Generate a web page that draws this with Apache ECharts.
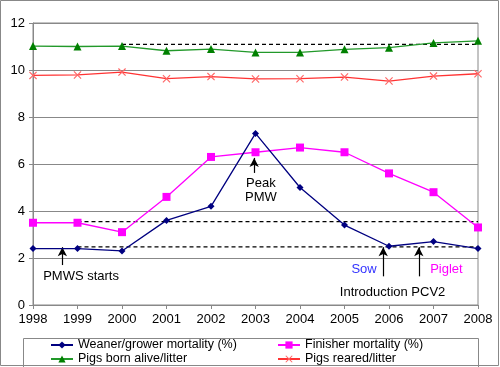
<!DOCTYPE html>
<html>
<head>
<meta charset="utf-8">
<script src="https://cdn.jsdelivr.net/npm/echarts@6/dist/echarts.min.js"></script>
<style>
html,body{margin:0;padding:0;background:#fff;}
#c{width:500px;height:367px;}
</style>
</head>
<body>
<div id="c"></div>
<script>
const years = [1998, 1999, 2000, 2001, 2002, 2003, 2004, 2005, 2006, 2007, 2008];
const weaner = [2.4, 2.4, 2.3, 3.6, 4.2, 7.3, 5.0, 3.4, 2.5, 2.7, 2.4];
const finisher = [3.5, 3.5, 3.1, 4.6, 6.3, 6.5, 6.7, 6.5, 5.6, 4.8, 3.3];
const bornAlive = [11.02, 11.0, 11.02, 10.82, 10.89, 10.75, 10.75, 10.88, 10.95, 11.15, 11.24];
const reared = [9.77, 9.79, 9.91, 9.63, 9.72, 9.62, 9.63, 9.70, 9.53, 9.74, 9.84];
const yTicks = [0, 2, 4, 6, 8, 10, 12];

// reference (dashed) lines: [startYear, endYear, level]
const refBorn = [2000, 2008, 11.09];
const refFinisher = [1999, 2008, 3.55];
const refWeaner = [1999, 2008, 2.47];

// annotation arrows: [x, yTail, yHead]
const arrows = [
  [1998.66, 1.70, 2.46],
  [2002.97, 5.62, 6.26],
  [2005.87, 1.22, 2.46],
  [2006.67, 1.22, 2.46]
];
// annotation texts: [text, x, y, color]
const notes = [
  ['PMWS starts', 1999.08, 1.22, '#000000'],
  ['Peak\nPMW', 2003.12, 4.87, '#000000'],
  ['Sow', 2005.44, 1.52, '#3333ff'],
  ['Piglet', 2007.29, 1.52, '#ff00ff'],
  ['Introduction PCV2', 2006.08, 0.54, '#000000']
];

const pair = arr => arr.map((v, i) => [years[i], v]);
const refLine = r => [[r[0], r[2]], [r[1], r[2]]];
const FONT = '"Liberation Sans", Arial, sans-serif';
const xSym = 'path://M0,1L1,0L5,4L9,0L10,1L6,5L10,9L9,10L5,6L1,10L0,9L4,5Z';

const chart = echarts.init(document.getElementById('c'), null, {renderer: 'canvas'});

const dashStyle = {color: '#000', width: 1.3, type: [4, 3]};
const refSeries = [refBorn, refFinisher, refWeaner].map((r, i) => ({
  name: 'ref' + i, type: 'line', data: refLine(r), showSymbol: false, symbol: 'none',
  lineStyle: dashStyle, silent: true, z: 1, animation: false
}));

const legendText = {fontSize: 12.5, color: '#000', fontFamily: FONT, lineHeight: 14};

chart.setOption({
  animation: false,
  textStyle: {fontFamily: FONT},
  grid: {left: 33, right: 22, top: 23, bottom: 62, show: true, borderColor: '#888', borderWidth: 1},
  xAxis: {
    type: 'value', min: 1998, max: 2008, interval: 1,
    axisLine: {show: true, lineStyle: {color: '#888'}},
    axisTick: {show: true, length: 4, lineStyle: {color: '#888'}},
    splitLine: {show: false},
    axisLabel: {color: '#000', fontSize: 13, fontFamily: FONT, margin: 8, formatter: v => String(v)}
  },
  yAxis: {
    type: 'value', min: 0, max: 12, interval: 2,
    axisLine: {show: true, lineStyle: {color: '#888'}},
    axisTick: {show: true, length: 4, lineStyle: {color: '#888'}},
    splitLine: {show: true, lineStyle: {color: '#888', width: 1}},
    axisLabel: {color: '#000', fontSize: 13, fontFamily: FONT, margin: 8,
      formatter: v => yTicks.includes(v) ? String(v) : ''}
  },
  legend: [
    {left: 50, top: 338, orient: 'vertical', padding: 0, itemGap: 0, itemWidth: 22, itemHeight: 9,
      data: ['Weaner/grower mortality (%)', 'Pigs born alive/litter'], textStyle: legendText},
    {left: 277, top: 338, orient: 'vertical', padding: 0, itemGap: 0, itemWidth: 22, itemHeight: 9,
      data: ['Finisher mortality (%)', 'Pigs reared/litter'], textStyle: legendText}
  ],
  graphic: [
    {type: 'rect', shape: {x: 0.5, y: 0.5, width: 498, height: 365},
      style: {fill: 'none', stroke: '#888', lineWidth: 1}, silent: true, z: -1},
    {type: 'rect', shape: {x: 23.5, y: 338.5, width: 455, height: 30},
      style: {fill: 'none', stroke: '#888', lineWidth: 1}, silent: true, z: -1}
  ],
  series: [
    ...refSeries,
    {name: 'Weaner/grower mortality (%)', type: 'line', data: pair(weaner),
      symbol: 'diamond', symbolSize: 7, itemStyle: {color: '#000080'},
      lineStyle: {color: '#000080', width: 1.3}, z: 5,
      markLine: {
        silent: true, symbol: ['none', 'arrow'], symbolSize: [7, 9],
        lineStyle: {color: '#000', width: 1.2, type: 'solid'}, label: {show: false},
        data: arrows.map(a => [{coord: [a[0], a[1]]}, {coord: [a[0], a[2]]}])
      },
      markPoint: {
        silent: true, symbol: 'circle', symbolSize: 0,
        label: {show: true, position: 'inside', fontSize: 13, fontFamily: FONT, lineHeight: 14,
          formatter: p => p.name},
        data: notes.map(n => ({name: n[0], coord: [n[1], n[2]], label: {color: n[3]}}))
      }
    },
    {name: 'Finisher mortality (%)', type: 'line', data: pair(finisher),
      symbol: 'rect', symbolSize: 8, itemStyle: {color: '#ff00ff'},
      lineStyle: {color: '#ff00ff', width: 1.3}, z: 4},
    {name: 'Pigs born alive/litter', type: 'line', data: pair(bornAlive),
      symbol: 'triangle', symbolSize: 8, itemStyle: {color: '#008000'},
      lineStyle: {color: '#22992a', width: 1.3}, z: 4},
    {name: 'Pigs reared/litter', type: 'line', data: pair(reared),
      symbol: xSym, symbolSize: 8, itemStyle: {color: '#ff6666'},
      lineStyle: {color: '#ff3333', width: 1.3}, z: 4}
  ]
});
</script>
</body>
</html>
